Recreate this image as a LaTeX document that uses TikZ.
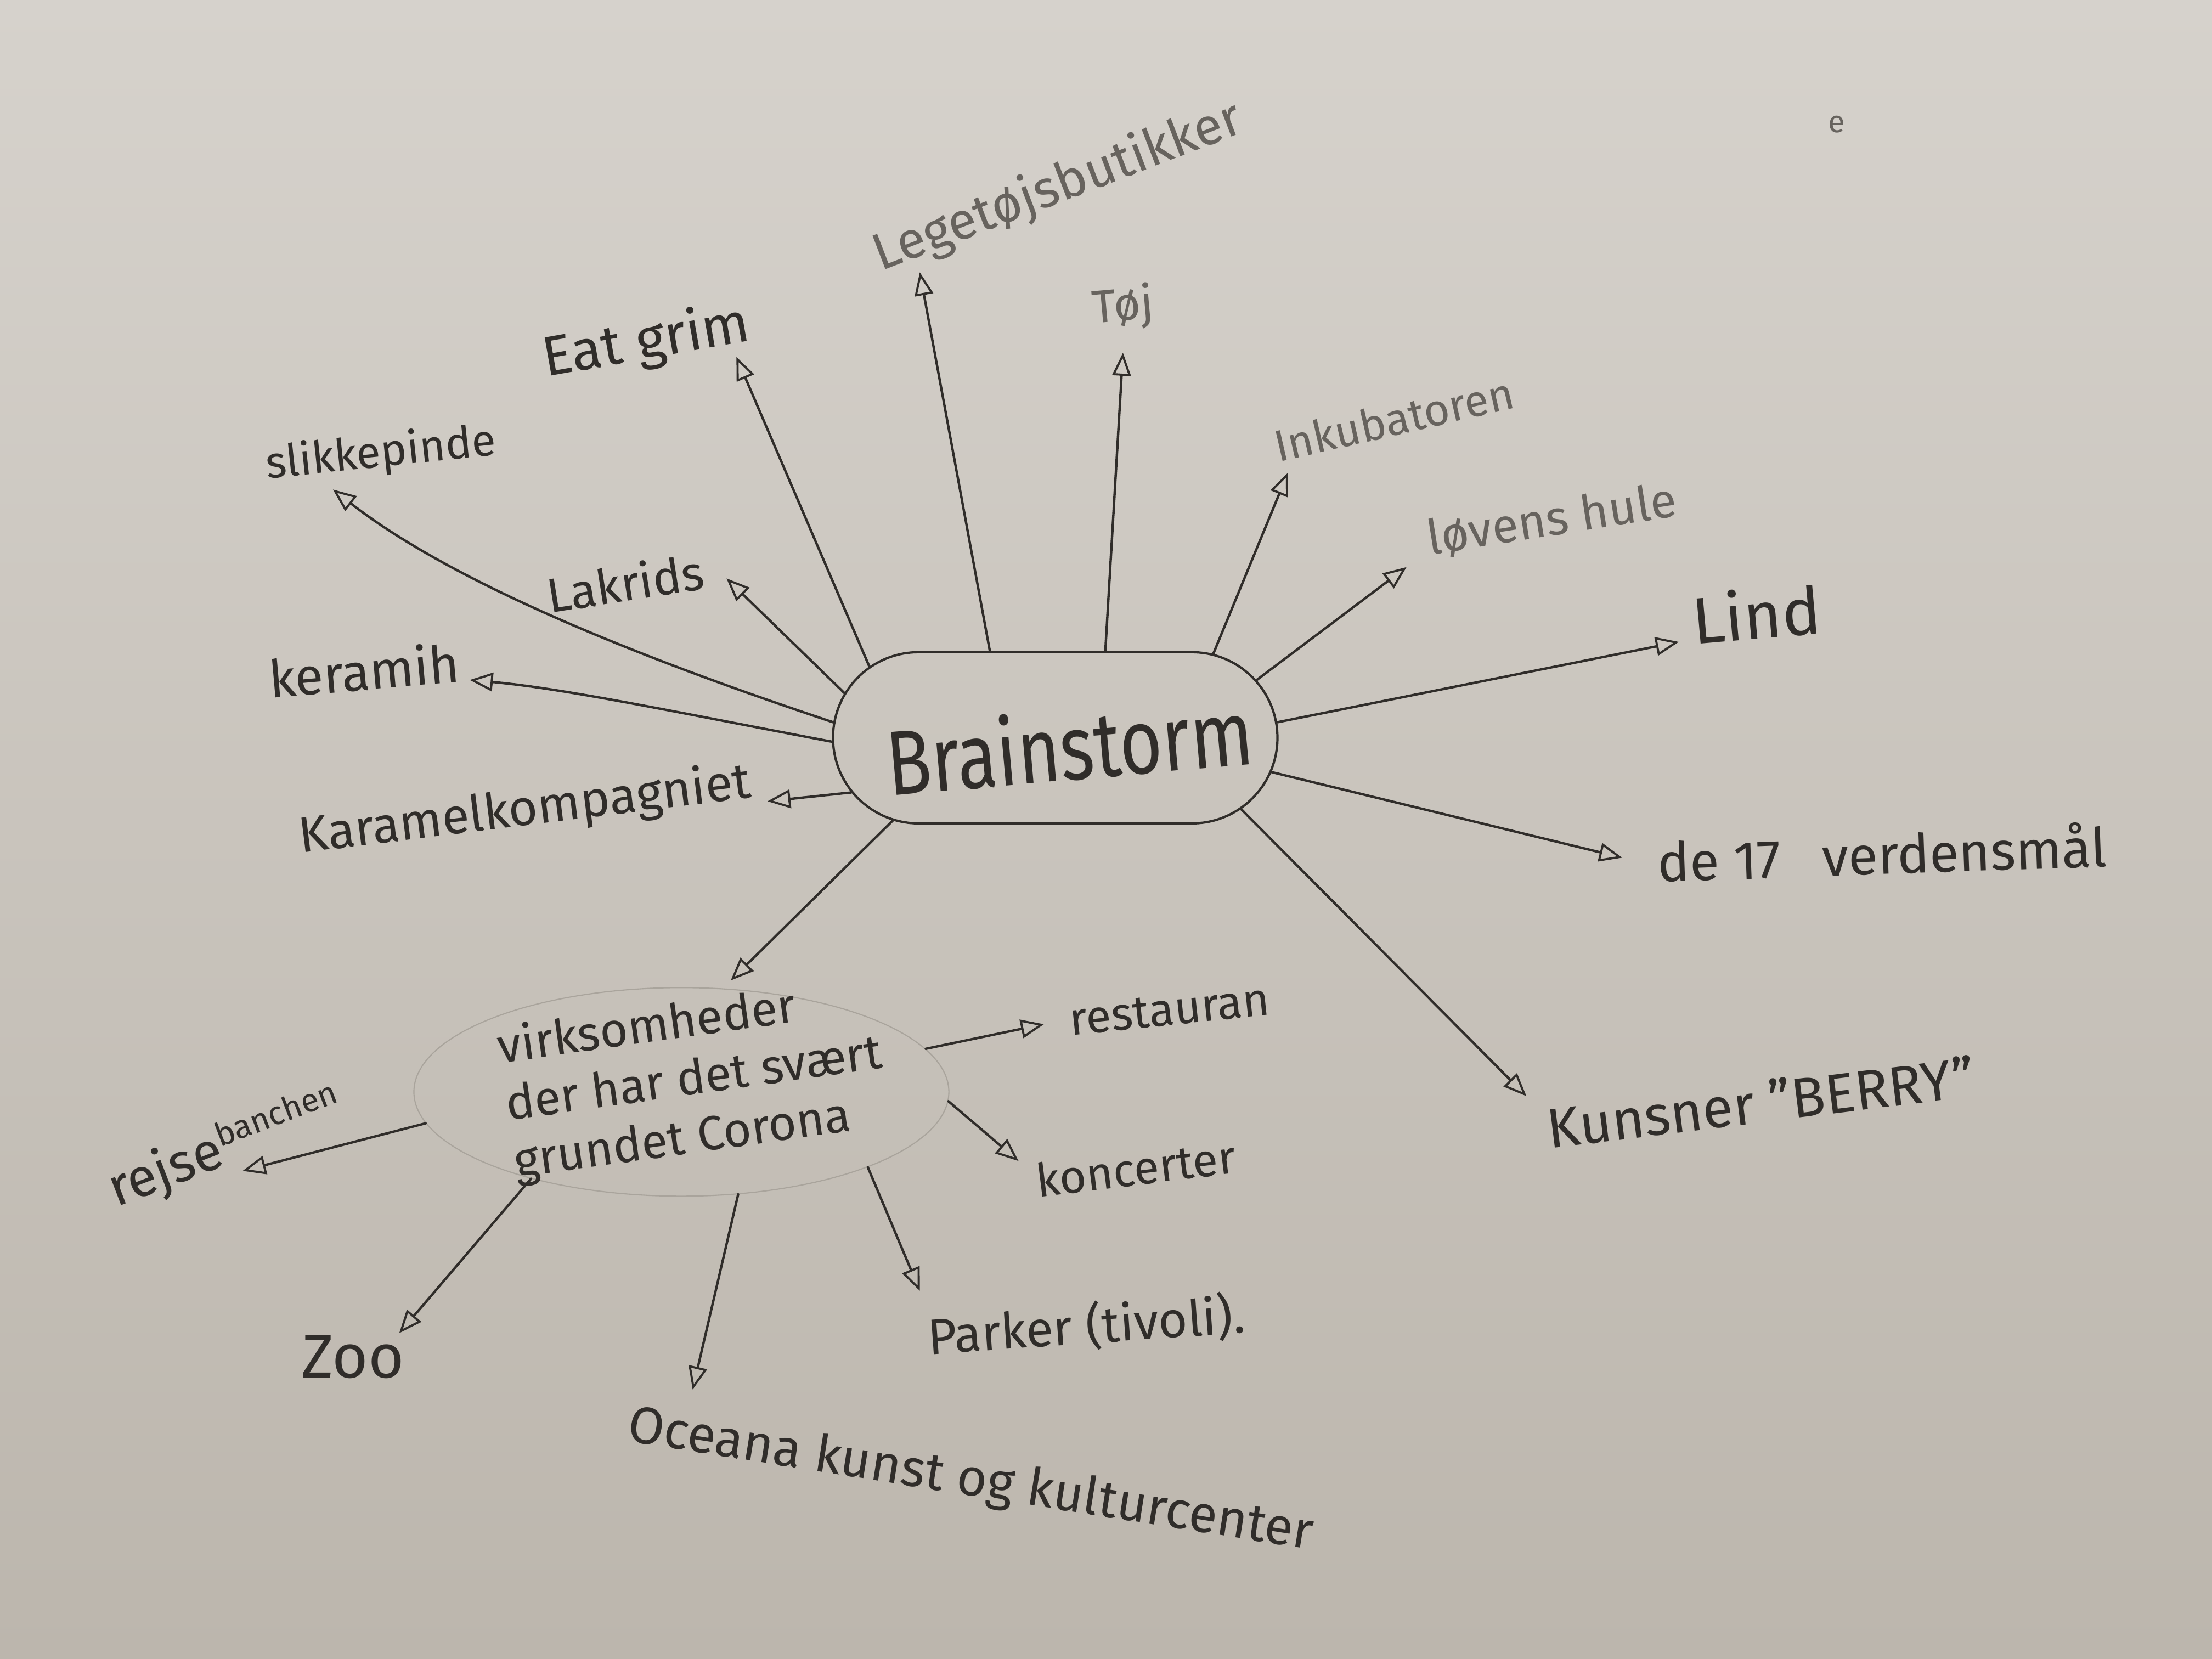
\documentclass[tikz,border=0pt]{standalone}
\usepackage{fontspec}
\setmainfont{Fira Sans}
\usetikzlibrary{arrows.meta,shapes.misc,shapes.geometric}
\definecolor{paperA}{HTML}{D6D2CC}
\definecolor{paperB}{HTML}{BCB6AD}
\definecolor{pencil}{HTML}{302D2A}
\definecolor{pencillight}{HTML}{67635E}
\definecolor{faint}{HTML}{A9A49C}
\newcommand{\fs}[1]{\fontsize{#1}{#1}\selectfont}

\begin{document}
\begin{tikzpicture}[x=0.025714cm, y=-0.025714cm,
  lbl/.style={text=pencil, inner sep=0pt, anchor=center},
  lite/.style={lbl, text=pencillight},
  link/.style={draw=pencil, line width=1.25pt, line cap=round,
    -{Triangle[open, length=0.42cm, width=0.34cm, line width=1.1pt]}},
]
% paper
\shade[top color=paperA, bottom color=paperB] (0,0) rectangle (1568,1176);
\useasboundingbox (0,0) rectangle (1568,1176);

% central topic
\node[draw=pencil, line width=1.2pt, rounded rectangle,
      minimum width=8.1cm, minimum height=3.12cm, inner sep=0pt] (bs) at (748,523) {};
\node[lbl, rotate=5] (bstxt) at (758,528) {\scalebox{1}[1.25]{\fs{38}Brainstorm}};

% secondary topic
\node[draw=faint, line width=0.6pt, ellipse,
      minimum width=9.75cm, minimum height=3.8cm, inner sep=0pt] (vk) at (483,774) {};
\node[lbl, rotate=8, align=left, font=\fontsize{25}{30}\selectfont] (vktxt) at (492,766)
  {virksomheder\\der har det svært\\grundet Corona};

% labels around the central topic
\node[lite, rotate=21] (leg) at (750,133) {\fs{27}Legetøjsbutikker};
\node[lite, rotate=5] (toj) at (796,218) {\fs{24}Tøj};
\node[lbl, rotate=10] (eat) at (458,243) {\fs{29}Eat grim};
\node[lbl, rotate=6] (slik) at (270,322) {\fs{23}slikkepinde};
\node[lbl, rotate=9] (lak) at (443,413) {\fs{25}Lakrids};
\node[lbl, rotate=5] (ker) at (258,475) {\fs{27}keramih};
\node[lbl, rotate=7] (kar) at (372,575) {\fs{26}Karamelkompagniet};
\node[lite, rotate=13] (ink) at (988,297) {\fs{23}Inkubatoren};
\node[lite, rotate=9] (lov) at (1100,369) {\fs{25}løvens hule};
\node[lbl, rotate=5] (lind) at (1245,435) {\fs{34}Lind};
\node[lbl, rotate=2] (de17) at (1334,604) {\fs{28}de 17\hspace{0.5em} verdensmål};
\node[lbl, rotate=7] (kun) at (1248,781) {\fs{29}Kunsner "BERRY"};
\node[lite] (e) at (1302,88) {\fs{16}e};

% labels around the secondary topic
\node[lbl, rotate=6] (rest) at (829,716) {\fs{24}restauran};
\node[lbl, rotate=7] (konc) at (805,828) {\fs{24}koncerter};
\node[lbl, rotate=4] (park) at (770,940) {\fs{26}Parker (tivoli).};
\node[lbl, rotate=-9] (ocean) at (688,1050) {\fs{27}Oceana kunst og kulturcenter};
\node[lbl] (zoo) at (250,962) {\fs{32}Zoo};
\node[lbl, rotate=21] (rejse) at (160,814) {\fs{28}rejse\raisebox{0.35em}{\fs{17}banchen}};

% arrow tips
\coordinate (t-leg) at (652,193);
\coordinate (t-toj) at (796,250);
\coordinate (t-eat) at (522,253);
\coordinate (t-lak) at (515,410);
\coordinate (t-slik) at (236,347);
\coordinate (t-ker) at (333,482);
\coordinate (t-kar) at (544,568);
\coordinate (t-vk) at (518,695);
\coordinate (t-kun) at (1082,777);
\coordinate (t-de17) at (1150,608);
\coordinate (t-lind) at (1190,455);
\coordinate (t-lov) at (997,402);
\coordinate (t-ink) at (913,335);
\coordinate (t-rest) at (740,726);
\coordinate (t-konc) at (722,823);
\coordinate (t-park) at (652,915);
\coordinate (t-ocean) at (491,985);
\coordinate (t-zoo) at (283,945);
\coordinate (t-rejse) at (172,830);

% connectors from the central topic
\draw[link] (bs.127) -- (t-leg);
\draw[link] (bs.60) -- (t-toj);
\draw[link] (bs.159) -- (t-eat);
\draw[link] (bs.168) -- (t-lak);
\draw[link] (bs.176) .. controls (480,475) and (330,420) .. (t-slik);
\draw[link] (bs.181) .. controls (480,505) and (400,488) .. (t-ker);
\draw[link] (bs.195) -- (t-kar);
\draw[link] (bs.207) -- (t-vk);
\draw[link] (bs.339) -- (t-kun);
\draw[link] (bs.351) -- (t-de17);
\draw[link] (bs.4) -- (t-lind);
\draw[link] (bs.16) -- (t-lov);
\draw[link] (bs.28) -- (t-ink);

% connectors from the secondary topic
\draw[link] (vk.10) -- (t-rest);
\draw[link] (vk.-2) -- (t-konc);
\draw[link] (vk.-22) -- (t-park);
\draw[link] (vk.-61) -- (t-ocean);
\draw[link] (vk.210) -- (t-zoo);
\draw[link] (vk.187) -- (t-rejse);
\end{tikzpicture}
\end{document}
